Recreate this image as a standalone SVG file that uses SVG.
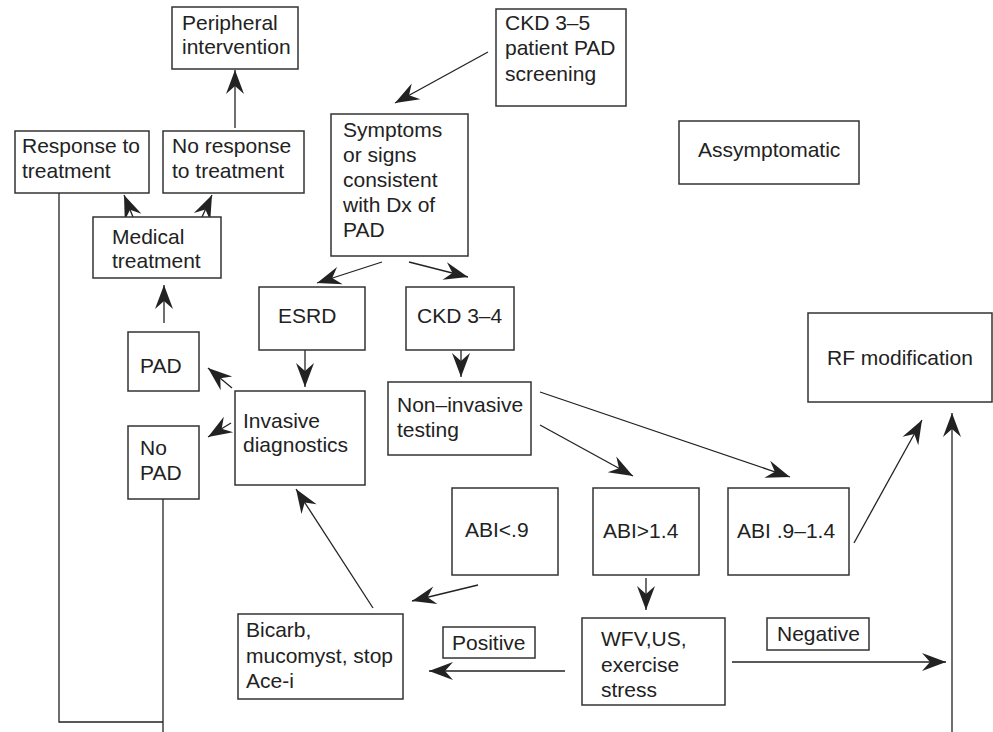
<svg xmlns="http://www.w3.org/2000/svg" width="993" height="732" viewBox="0 0 993 732">
<style>
.box{fill:#fff;stroke:#333;stroke-width:1.5}
.t{font-family:"Liberation Sans",Arial,sans-serif;font-size:21px;fill:#222}
.c{fill:none;stroke:#222;stroke-width:1.3}
</style>
<defs>
<marker id="ah" viewBox="-25 -10 27 20" refX="0" refY="0" markerWidth="27" markerHeight="20" markerUnits="userSpaceOnUse" orient="auto">
<path d="M0,0 L-24,-9 L-16,0 L-24,9 Z" fill="#222"/>
</marker>
</defs>
<rect width="993" height="732" fill="#fff"/>
<g id="connectors">
<line class="c" x1="488" y1="52" x2="395" y2="103" marker-end="url(#ah)"/>
<line class="c" x1="235" y1="128" x2="235" y2="70" marker-end="url(#ah)"/>
<line class="c" x1="133" y1="217" x2="124" y2="195" marker-end="url(#ah)"/>
<line class="c" x1="202" y1="217" x2="212" y2="195" marker-end="url(#ah)"/>
<line class="c" x1="382" y1="262" x2="317" y2="283" marker-end="url(#ah)"/>
<line class="c" x1="409" y1="262" x2="468" y2="277" marker-end="url(#ah)"/>
<line class="c" x1="305" y1="350" x2="305" y2="387" marker-end="url(#ah)"/>
<line class="c" x1="461" y1="350" x2="461" y2="377" marker-end="url(#ah)"/>
<line class="c" x1="164" y1="323" x2="164" y2="285" marker-end="url(#ah)"/>
<line class="c" x1="232" y1="388" x2="208" y2="368" marker-end="url(#ah)"/>
<line class="c" x1="231" y1="423" x2="208" y2="437" marker-end="url(#ah)"/>
<line class="c" x1="540" y1="425" x2="633" y2="476" marker-end="url(#ah)"/>
<line class="c" x1="540" y1="392" x2="790" y2="477" marker-end="url(#ah)"/>
<line class="c" x1="854" y1="543" x2="922" y2="420" marker-end="url(#ah)"/>
<line class="c" x1="952" y1="732" x2="952" y2="413" marker-end="url(#ah)"/>
<line class="c" x1="478" y1="585" x2="412" y2="601" marker-end="url(#ah)"/>
<line class="c" x1="373" y1="608" x2="296" y2="489" marker-end="url(#ah)"/>
<line class="c" x1="646" y1="578" x2="646" y2="610" marker-end="url(#ah)"/>
<line class="c" x1="565" y1="671" x2="429" y2="671" marker-end="url(#ah)"/>
<line class="c" x1="732" y1="662" x2="946" y2="662" marker-end="url(#ah)"/>
<polyline class="c" points="59,193 59,722 163,722"/>
<line class="c" x1="163" y1="499" x2="163" y2="732"/>
</g>
<g id="peripheral"><rect class="box" x="172" y="7" width="126" height="62"/><text class="t" x="182" y="30">Peripheral</text><text class="t" x="182" y="54">intervention</text></g>
<g id="ckd35"><rect class="box" x="496" y="9" width="130" height="97"/><text class="t" x="505" y="30">CKD 3–5</text><text class="t" x="505" y="55">patient PAD</text><text class="t" x="505" y="81">screening</text></g>
<g id="response"><rect class="box" x="15" y="131" width="134" height="62"/><text class="t" x="22" y="153">Response to</text><text class="t" x="22" y="178">treatment</text></g>
<g id="noresponse"><rect class="box" x="163" y="131" width="141" height="62"/><text class="t" x="172" y="153">No response</text><text class="t" x="172" y="178">to treatment</text></g>
<g id="symptoms"><rect class="box" x="331" y="114" width="137" height="142"/><text class="t" x="343" y="137">Symptoms</text><text class="t" x="343" y="162">or signs</text><text class="t" x="343" y="187">consistent</text><text class="t" x="343" y="212">with Dx of</text><text class="t" x="343" y="237">PAD</text></g>
<g id="assymptomatic"><rect class="box" x="679" y="121" width="180" height="63"/><text class="t" x="698" y="157">Assymptomatic</text></g>
<g id="medical"><rect class="box" x="93" y="217" width="128" height="61"/><text class="t" x="112" y="244">Medical</text><text class="t" x="112" y="268">treatment</text></g>
<g id="esrd"><rect class="box" x="259" y="287" width="106" height="63"/><text class="t" x="278" y="323">ESRD</text></g>
<g id="ckd34"><rect class="box" x="406" y="287" width="108" height="63"/><text class="t" x="417" y="323">CKD 3–4</text></g>
<g id="rf"><rect class="box" x="808" y="313" width="184" height="89"/><text class="t" x="827" y="365">RF modification</text></g>
<g id="pad"><rect class="box" x="128" y="332" width="71" height="59"/><text class="t" x="140" y="373">PAD</text></g>
<g id="nopad"><rect class="box" x="128" y="426" width="71" height="73"/><text class="t" x="140" y="455">No</text><text class="t" x="140" y="480">PAD</text></g>
<g id="invasive"><rect class="box" x="235" y="391" width="130" height="94"/><text class="t" x="243" y="428">Invasive</text><text class="t" x="243" y="452">diagnostics</text></g>
<g id="noninvasive"><rect class="box" x="388" y="382" width="143" height="73"/><text class="t" x="397" y="412">Non–invasive</text><text class="t" x="397" y="437">testing</text></g>
<g id="abi-low"><rect class="box" x="452" y="488" width="106" height="87"/><text class="t" x="465" y="537">ABI&lt;.9</text></g>
<g id="abi-high"><rect class="box" x="593" y="488" width="106" height="87"/><text class="t" x="603" y="538">ABI&gt;1.4</text></g>
<g id="abi-normal"><rect class="box" x="728" y="488" width="121" height="87"/><text class="t" x="737" y="538">ABI .9–1.4</text></g>
<g id="bicarb"><rect class="box" x="238" y="614" width="165" height="85"/><text class="t" x="246" y="637">Bicarb,</text><text class="t" x="246" y="663">mucomyst, stop</text><text class="t" x="246" y="688">Ace-i</text></g>
<g id="positive"><rect class="box" x="443" y="627" width="92" height="31"/><text class="t" x="452" y="650">Positive</text></g>
<g id="wfv"><rect class="box" x="582" y="618" width="143" height="87"/><text class="t" x="601" y="646">WFV,US,</text><text class="t" x="601" y="672">exercise</text><text class="t" x="601" y="697">stress</text></g>
<g id="negative"><rect class="box" x="767" y="618" width="102" height="32"/><text class="t" x="777" y="641">Negative</text></g>
</svg>
